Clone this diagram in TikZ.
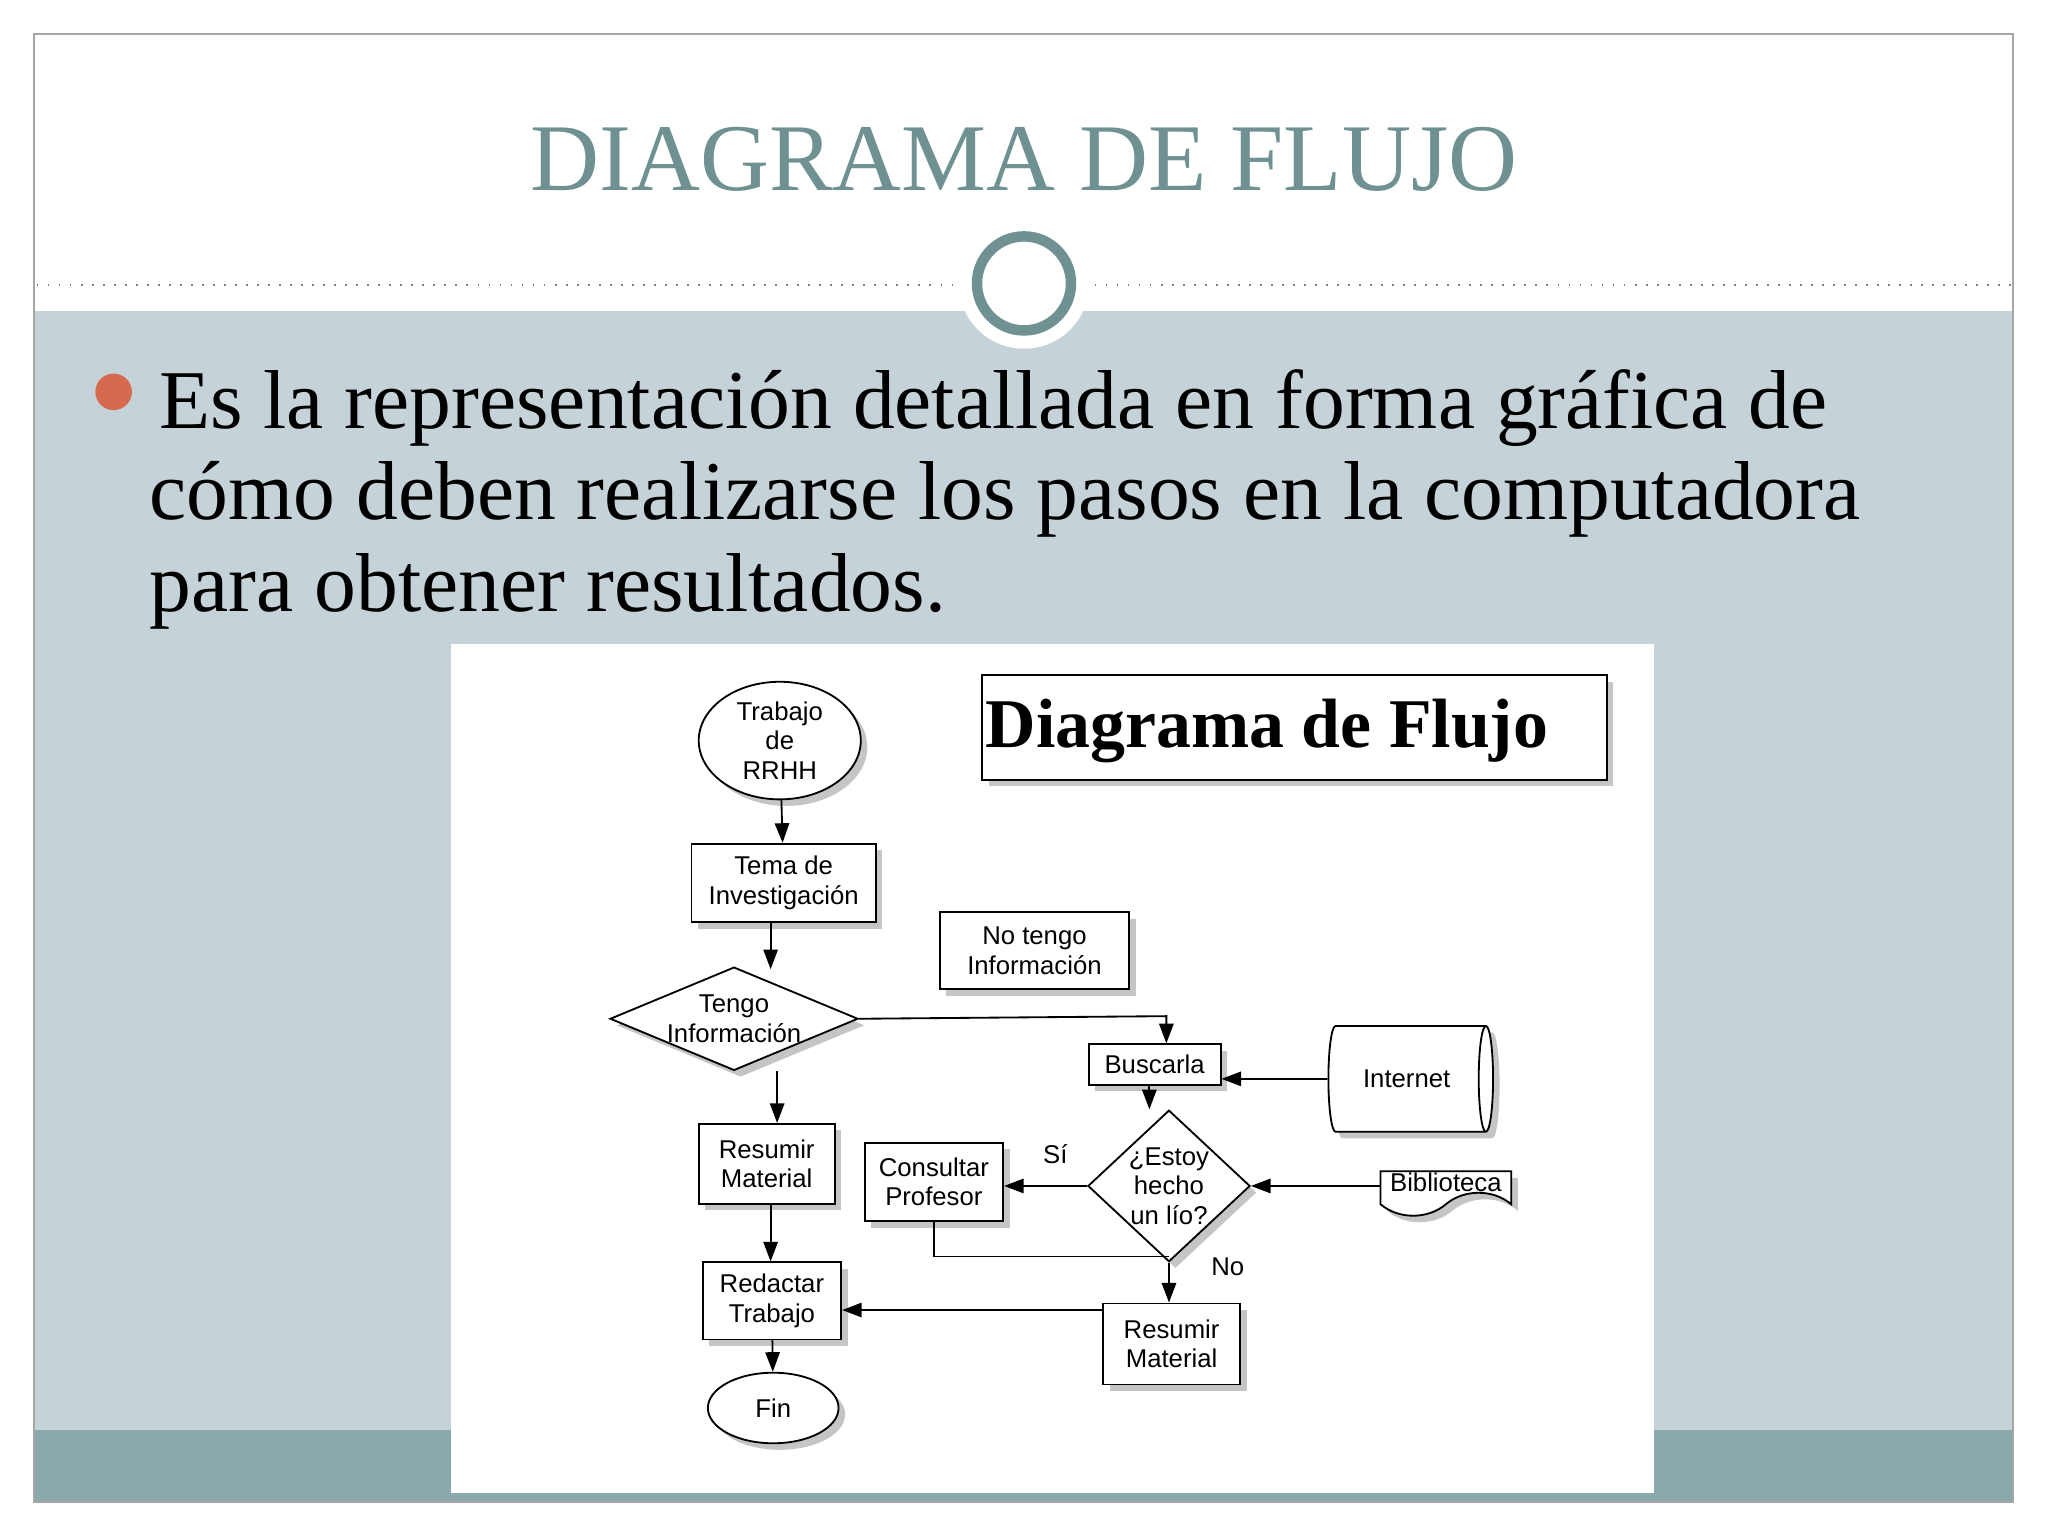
\documentclass[tikz,border=0pt]{standalone}
\usepackage{fontspec}
\setmainfont{Liberation Serif}
\newfontfamily\fcsans{Liberation Sans}
\usetikzlibrary{shapes.geometric,shapes.symbols,arrows.meta,shadows}
\definecolor{teal1}{HTML}{6F9191}
\definecolor{band}{HTML}{C5D3D8}
\definecolor{band2}{HTML}{8AA9AA}
\definecolor{bul}{HTML}{D66A4E}
\begin{document}
\begin{tikzpicture}[x=0.01cm,y=-0.01cm,
  sh/.style={drop shadow={opacity=0.45,shadow xshift=0.05cm,shadow yshift=-0.05cm}},
  fbox/.style={draw,fill=white,sh,font=\fcsans\fontsize{5.6}{6.4}\selectfont,align=center,inner sep=0pt},
  arr/.style={-{Triangle[length=0.15cm,width=0.11cm]},thin},
  ln/.style={thin}]
\useasboundingbox (0,0) rectangle (1568,1176);
\fill[white] (0,0) rectangle (1568,1176);
\fill[band] (26,238) rectangle (1541,1095);
\fill[band2] (26,1095) rectangle (1541,1150);
\draw[gray!70] (26,26) rectangle (1541,1150);
\node[teal1,font=\fontsize{20.8}{24}\selectfont] (title) at (784,122) {DIAGRAMA DE FLUJO};
\draw[gray,dotted] (28,218) -- (730,218);
\draw[gray,dotted] (838,218) -- (1540,218);
\fill[white] (784,217) circle (50);
\draw[teal1,line width=0.08cm,fill=white] (784,217) circle (36);
\fill[bul] (87,300) circle (14);
\node[anchor=north west,align=left,font=\fontsize{18.2}{20}\selectfont,inner sep=0pt] (txt) at (114,282)
{\hspace*{2pt}Es la representación detallada en forma gráfica de\\cómo deben realizarse los pasos en la computadora\\para obtener resultados.};
\fill[white] (345,493) rectangle (1266,1143);
% flowchart
\node[fbox,minimum width=4.78cm,minimum height=0.8cm] (dtb) at (991,557) {};
\node[font=\bfseries\fontsize{15.2}{18}\selectfont] (dtt) at (970,560) {Diagrama de Flujo};
\node[fbox,ellipse,minimum width=1.24cm,minimum height=0.9cm] (tra) at (597,567) {Trabajo\\de\\RRHH};
\node[fbox,minimum width=1.41cm,minimum height=0.6cm] (tema) at (600,676) {Tema de\\Investigación};
\node[fbox,diamond,aspect=2.4,minimum width=1.82cm,minimum height=0.76cm] (tengo) at (562,780) {Tengo\\Información};
\node[fbox,minimum width=1.45cm,minimum height=0.59cm] (notengo) at (792,728) {No tengo\\Información};
\node[fbox,minimum width=1.01cm,minimum height=0.31cm] (busc) at (884,815) {Buscarla};
\node[fbox,cylinder,shape border rotate=0,aspect=0.8,minimum width=0.81cm,minimum height=1.26cm] (inter) at (1077,826) {Internet};
\node[fbox,minimum width=1.04cm,minimum height=0.61cm] (res1) at (587,891) {Resumir\\Material};
\node[fbox,minimum width=1.06cm,minimum height=0.6cm] (cons) at (715,905) {Consultar\\Profesor};
\node[fbox,diamond,aspect=1.07,minimum width=1.2cm,minimum height=1.12cm,inner sep=0pt] (estoy) at (895,908) {¿Estoy\\hecho\\un lío?};
\node[fbox,tape,tape bend top=none,minimum width=1.0cm,minimum height=0.34cm] (bib) at (1107,905) {Biblioteca};
\node[fbox,minimum width=1.06cm,minimum height=0.59cm] (red) at (591,996) {Redactar\\Trabajo};
\node[fbox,minimum width=1.05cm,minimum height=0.62cm] (res2) at (897,1029) {Resumir\\Material};
\node[fbox,ellipse,minimum width=1.0cm,minimum height=0.54cm] (fin) at (592,1078) {Fin};
\draw[arr] (tra) -- (tema);
\draw[arr] (tema.south -| 590,0) -- (590,742);
\draw[arr] (tengo.east) -- (893,778) -- (busc.north -| 893,0);
\draw[arr] (595,820) -- (res1.north -| 595,0);
\draw[arr] (res1.south -| 590,0) -- (red.north -| 590,0);
\draw[arr] (red) -- (fin);
\draw[arr] (inter.west |- 0,826) -- (busc.east |- 0,826);
\draw[arr] (busc.south -| 880,0) -- (estoy.north -| 880,0);
\draw[arr] (bib.west |- 0,908) -- (estoy.east);
\draw[arr] (estoy.west) -- (cons.east |- estoy.west);
\node[font=\fcsans\fontsize{5.6}{6.4}\selectfont] (si) at (808,884) {Sí};
\draw[arr] (estoy.south) -- (res2.north -| estoy.south) ;
\node[font=\fcsans\fontsize{5.6}{6.4}\selectfont] (no) at (940,970) {No};
\draw[ln] (cons.south) -- (715,962) -- (895,962);
\draw[arr] (res2.west |- 0,1003) -- (red.east |- 0,1003);
\end{tikzpicture}
\end{document}
